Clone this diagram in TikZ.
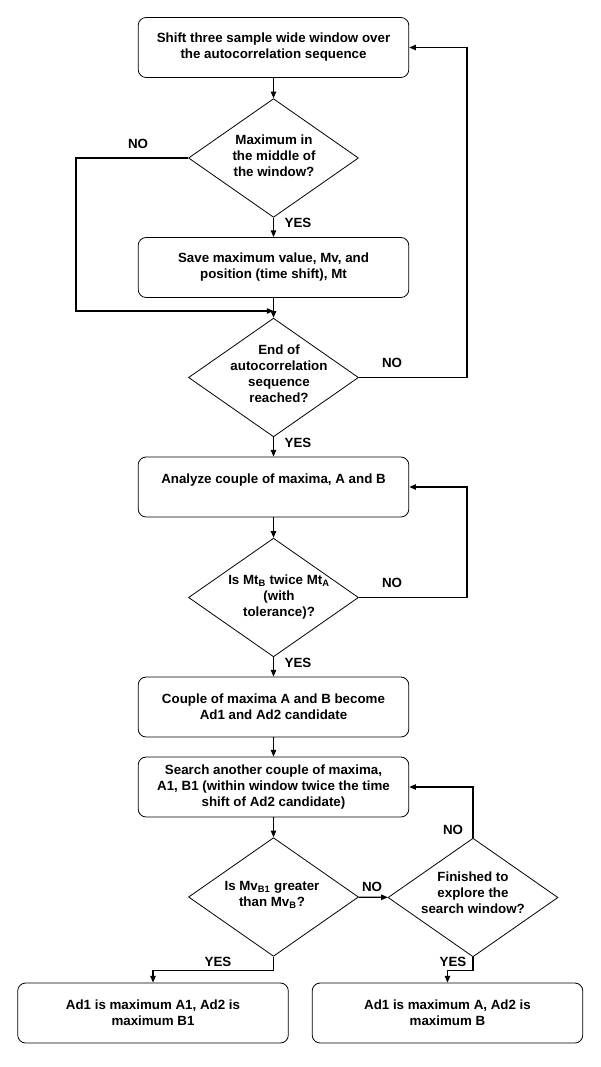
\documentclass[tikz,border=0pt]{standalone}
\usepackage{fontspec}
\setmainfont{Liberation Sans}
\usetikzlibrary{shapes.geometric,arrows.meta}

\begin{document}
\begin{tikzpicture}[x=0.75pt, y=-0.75pt,
    font=\bfseries\fontsize{10}{12}\selectfont,
    procbox/.style={draw, rounded corners=6pt, line width=0.6pt, minimum width=203pt, minimum height=45pt, align=center, inner sep=0pt},
    decision/.style={draw, diamond, line width=0.6pt, minimum width=127.5pt, minimum height=89pt, inner sep=0pt},
    dtext/.style={align=center, inner sep=0pt},
    flow/.style={line width=1pt, -{Triangle[length=5pt, width=4pt]}},
    lbl/.style={inner sep=0pt}]
    \useasboundingbox[fill=white] (0,0) rectangle (600,1067);

    % boxes and decisions
    \node[procbox] (shift) at (273.5,47.5) {Shift three sample wide window over\\the autocorrelation sequence};
    \node[decision] (midmax) at (273.5,158) {};
    \node[dtext] (midmaxtxt) at (274,156) {Maximum in\\the middle of\\the window?};
    \node[procbox] (save) at (273.5,267.5) {Save maximum value, Mv, and\\position (time shift), Mt};
    \node[decision] (endseq) at (273.5,377.5) {};
    \node[dtext] (endseqtxt) at (279,374) {End of\\autocorrelation\\sequence\\reached?};
    \node[procbox] (analyze) at (273.5,487) {Analyze couple of maxima, A and B\\\mbox{}};
    \node[decision] (twice) at (273.5,597.5) {};
    \node[dtext] (twicetxt) at (279,597) {Is Mt\textsubscript{B} twice Mt\textsubscript{A}\\(with\\tolerance)?};
    \node[procbox] (cand) at (273.5,707) {Couple of maxima A and B become\\Ad1 and Ad2 candidate};
    \node[procbox] (search) at (273.5,787) {Search another couple of maxima,\\A1, B1 (within window twice the time\\shift of Ad2 candidate)};
    \node[decision] (greater) at (273.5,897) {};
    \node[dtext] (greatertxt) at (272,895) {Is Mv\textsubscript{B1} greater\\than Mv\textsubscript{B}?};
    \node[decision] (finished) at (473,897.5) {};
    \node[dtext] (finishedtxt) at (473,893) {Finished to\\explore the\\search window?};
    \node[procbox] (resnew) at (153,1013) {Ad1 is maximum A1, Ad2 is\\maximum B1};
    \node[procbox] (resold) at (447.5,1013) {Ad1 is maximum A, Ad2 is\\maximum B};

    % connectors
    \coordinate (merge) at (273.5,311);
    \draw[flow] (shift) -- (midmax);
    \draw[flow] (midmax) -- (save);
    \draw[flow] (save) -- (endseq);
    \draw[flow] (midmax.west) -- ++(-112,0) |- (merge);
    \draw[flow] (endseq.east) -- ++(108,0) |- (shift.east);
    \draw[flow] (endseq) -- (analyze);
    \draw[flow] (analyze) -- (twice);
    \draw[flow] (twice.east) -- ++(108,0) |- (analyze.east);
    \draw[flow] (twice) -- (cand);
    \draw[flow] (cand) -- (search);
    \draw[flow] (search) -- (greater);
    \draw[flow] (greater) -- (finished);
    \draw[flow] (finished.north) |- (search.east);
    \draw[flow] (greater.south) -- ++(0,14) -| (resnew.north);
    \draw[flow] (finished.south) -- ++(0,13) -| (resold.north);

    % yes/no labels
    \node[lbl] (nomid) at (138,144) {NO};
    \node[lbl] (yesmid) at (298,223) {YES};
    \node[lbl] (noend) at (392,363) {NO};
    \node[lbl] (yesend) at (298,443) {YES};
    \node[lbl] (notwice) at (392,583) {NO};
    \node[lbl] (yestwice) at (298,663) {YES};
    \node[lbl] (nogreater) at (372,887) {NO};
    \node[lbl] (nofinished) at (453,830) {NO};
    \node[lbl] (yesgreater) at (218,962) {YES};
    \node[lbl] (yesfinished) at (453,962) {YES};
\end{tikzpicture}
\end{document}
